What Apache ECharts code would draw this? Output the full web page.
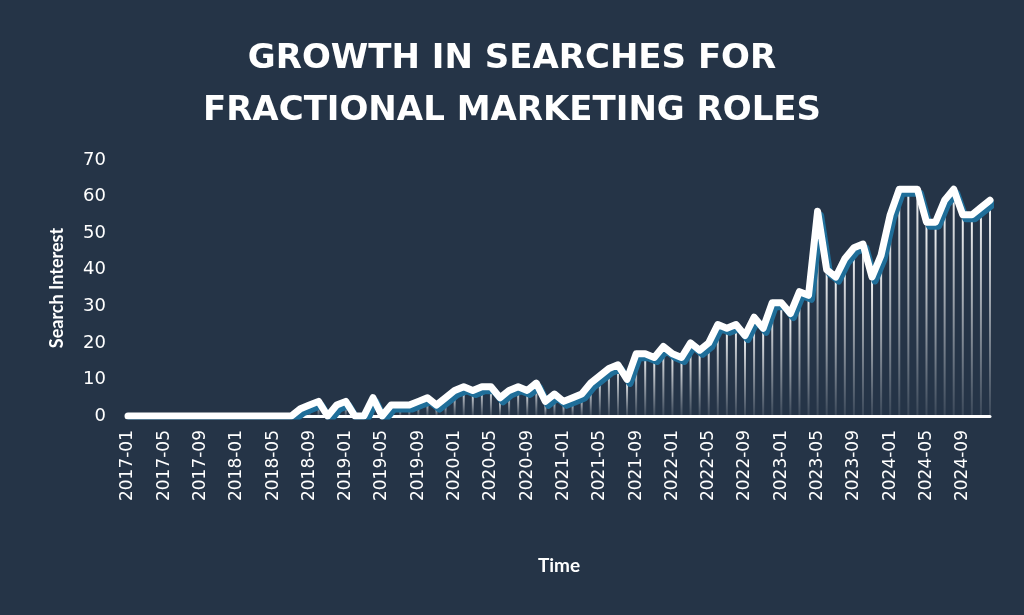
<!DOCTYPE html><html><head><meta charset="utf-8">
<script src="https://cdn.jsdelivr.net/npm/echarts@6/dist/echarts.min.js"></script>
<style>html,body{margin:0;background:#253447}#c{width:1024px;height:615px}</style></head><body><div id="c"></div><script>
const categories=[];for(let y=2017;y<=2024;y++)for(let m=1;m<=12;m++)categories.push(y+'-'+String(m).padStart(2,'0'));
const values=[0,0,0,0,0,0,0,0,0,0,0,0,0,0,0,0,0,0,0,2,3,4,0,3,
4,0,0,5,0,3,3,3,4,5,3,5,
7,8,7,8,8,5,7,8,7,9,4,6,
4,5,6,9,11,13,14,10,17,17,16,19,
17,16,20,18,20,25,24,25,22,27,24,31,
31,28,34,33,56,40,38,43,46,47,38,44,
55,62,62,62,53,53,59,62,55,55,57,59];
const chart=echarts.init(document.getElementById('c'));
chart.setOption({backgroundColor:'#253447',animation:false,
title:{text:'GROWTH IN SEARCHES FOR\nFRACTIONAL MARKETING ROLES',left:'center',top:28,textStyle:{color:'#fff',fontFamily:'DejaVu Sans',fontWeight:'bold',fontSize:34,lineHeight:52}},
grid:{left:128,right:34,top:160,bottom:199},
xAxis:{type:'category',data:categories,boundaryGap:false,name:'Time',nameLocation:'middle',nameGap:140,nameTextStyle:{color:'#fff',fontSize:19,fontWeight:'bold',fontFamily:'Lato'},
axisLine:{lineStyle:{color:'#fff',width:3}},axisTick:{show:false},
axisLabel:{color:'#fff',rotate:90,fontSize:17,fontFamily:'DejaVu Sans',interval:3,margin:14}},
yAxis:{type:'value',min:0,max:70,interval:10,name:'Search Interest',nameLocation:'middle',nameGap:62,nameTextStyle:{color:'#fff',fontSize:18,fontWeight:'bold',fontFamily:'Lato'},
axisLabel:{color:'#fff',fontSize:18,fontFamily:'DejaVu Sans',margin:22},splitLine:{show:false},axisLine:{show:false},axisTick:{show:false}},
series:[
{type:'bar',data:values,barWidth:2,itemStyle:{color:new echarts.graphic.LinearGradient(0,0,0,1,[{offset:0,color:'rgba(255,255,255,0.95)'},{offset:1,color:'rgba(255,255,255,0.1)'}])},z:1},
{type:'line',data:values,symbol:'none',lineStyle:{color:'#fff',width:7,join:'round',cap:'round',shadowColor:'#1f6e99',shadowOffsetX:3,shadowOffsetY:4},z:3}
]});
</script></body></html>
